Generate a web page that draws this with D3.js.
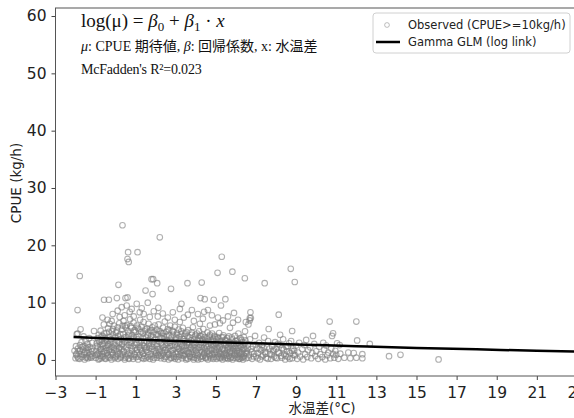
<!DOCTYPE html>
<html>
<head>
<meta charset="utf-8">
<script src="https://cdn.jsdelivr.net/npm/d3@7"></script>
<style>
  body { margin: 0; background: #fff; }
  svg { display: block; }
</style>
</head>
<body>
<div id="chart"></div>
<script>
// observed points [water temp diff, CPUE]
const observedLeft = [
  [-2.05,1.6],[-2.0,0.3],[-1.98,2.4],[-1.95,1.1],[-1.9,0.6],[-1.88,2.0],[-1.85,1.5],[-1.8,0.2],[-1.78,2.6],[-1.75,1.0],
  [-1.7,3.1],[-1.68,0.5],[-1.65,1.8],[-1.6,2.4],[-1.58,0.9],[-1.55,0.1],[-1.52,1.4],[-1.5,3.4],[-1.47,2.1],[-1.45,0.6],
  [-1.42,1.2],[-1.4,2.8],[-1.38,0.3],[-1.35,1.7],[-1.32,3.8],[-1.3,0.8],[-1.28,2.3],[-1.25,1.1],[-1.22,0.4],[-1.2,1.9],
  [-1.18,3.0],[-1.15,0.7],[-1.6,4.1],[-1.9,4.6],[-1.75,5.35],[-1.08,5.05],[-1.94,4.5],[-1.79,14.65],[-1.9,8.7],
  [-1.97,0.9],[-1.87,0.3],[-1.77,1.6],[-1.67,2.3],[-1.57,1.2],[-1.47,0.4],[-1.37,2.2],[-1.27,0.5],[-1.17,1.5]
];
const observedMain = [
  [-1.0,0.4],[-0.98,1.6],[-0.95,2.9],[-0.93,0.9],[-0.9,3.8],[-0.88,2.2],[-0.86,0.1],[-0.84,4.4],[-0.82,1.3],[-0.8,3.2],[-0.78,0.7],[-0.76,2.6],
  [-0.75,5.1],[-0.73,1.9],[-0.71,0.3],[-0.69,3.5],[-0.67,1.0],[-0.65,4.2],[-0.63,2.4],[-0.61,0.6],[-0.59,6.2],[-0.57,2.9],[-0.55,1.5],[-0.53,3.9],[-0.66,7.4],[-0.58,10.5],
  [-0.5,0.2],[-0.48,2.1],[-0.46,4.7],[-0.44,1.2],[-0.42,3.3],[-0.4,0.8],[-0.38,5.5],[-0.36,2.7],[-0.34,1.7],[-0.32,4.0],[-0.3,0.4],[-0.28,3.0],[-0.34,10.5],[-0.4,7.0],[-0.3,6.3],
  [-0.25,1.4],[-0.23,3.6],[-0.21,0.1],[-0.19,5.0],[-0.17,2.3],[-0.15,4.4],[-0.13,0.9],[-0.11,2.9],[-0.09,6.0],[-0.07,1.8],[-0.05,3.9],[-0.03,0.5],[-0.15,8.0],[-0.2,6.8],
  [0.0,2.5],[0.02,4.8],[0.04,0.7],[0.06,3.4],[0.08,1.5],[0.1,5.7],[0.12,0.2],[0.14,4.1],[0.16,2.0],[0.18,6.4],[0.2,3.0],[0.22,1.1],[0.06,10.8],[0.14,13.1],[0.1,8.6],[0.2,7.5],
  [0.25,0.4],[0.27,3.7],[0.29,1.9],[0.31,5.3],[0.33,2.8],[0.35,0.9],[0.37,4.5],[0.39,6.8],[0.41,1.4],[0.43,3.2],[0.45,0.1],[0.47,5.9],[0.34,23.5],[0.49,10.8],[0.3,9.2],[0.45,7.8],
  [0.5,2.2],[0.52,4.0],[0.54,0.6],[0.56,6.1],[0.58,1.7],[0.6,3.5],[0.62,5.0],[0.64,0.3],[0.66,2.6],[0.68,4.6],[0.7,1.2],[0.72,7.1],[0.59,10.9],[0.62,18.8],[0.59,17.6],[0.65,17.1],[0.55,9.5],[0.7,8.4],
  [0.75,0.8],[0.77,3.0],[0.79,5.6],[0.81,1.6],[0.83,4.3],[0.85,2.4],[0.87,0.2],[0.89,6.5],[0.91,3.8],[0.93,1.0],[0.95,5.2],[0.97,2.1],[0.8,8.9],[0.9,7.6],
  [1.0,4.9],[1.02,0.5],[1.04,2.9],[1.06,6.0],[1.08,1.3],[1.1,3.6],[1.12,0.1],[1.14,5.4],[1.16,2.3],[1.18,4.1],[1.2,0.9],[1.22,7.0],[1.09,18.8],[1.05,9.8],[1.2,8.3],
  [1.25,1.8],[1.27,3.3],[1.29,5.8],[1.31,0.4],[1.33,2.6],[1.35,4.6],[1.37,1.1],[1.39,6.6],[1.41,3.0],[1.43,0.7],[1.45,5.0],[1.47,2.0],[1.49,12.1],[1.3,9.0],[1.4,8.0],
  [1.5,0.3],[1.52,3.9],[1.54,2.2],[1.56,5.5],[1.58,1.4],[1.6,4.4],[1.62,0.8],[1.64,6.3],[1.66,2.8],[1.68,3.4],[1.7,0.2],[1.72,5.1],[1.6,10.0],[1.7,7.5],
  [1.75,2.5],[1.77,4.2],[1.79,0.6],[1.81,1.9],[1.83,5.7],[1.85,3.1],[1.87,0.1],[1.89,4.8],[1.91,1.5],[1.93,2.7],[1.95,6.0],[1.97,0.9],[1.79,14.1],[1.87,14.1],[1.84,11.5],[1.9,8.5],
  [2.0,3.7],[2.02,1.2],[2.04,5.3],[2.06,0.4],[2.08,2.4],[2.1,4.5],[2.12,1.8],[2.14,6.2],[2.16,0.7],[2.18,3.2],[2.2,2.0],[2.22,5.0],[2.2,21.4],[2.07,13.4],[2.13,9.1],[2.1,7.6],
  [2.25,0.3],[2.27,2.9],[2.29,4.7],[2.31,1.5],[2.33,3.8],[2.35,0.9],[2.37,5.6],[2.39,2.2],[2.41,4.1],[2.43,0.2],[2.45,1.7],[2.47,3.3],[2.35,8.1],[2.45,6.7],
  [2.5,2.6],[2.52,4.9],[2.54,0.6],[2.56,3.5],[2.58,1.3],[2.6,5.4],[2.62,2.1],[2.64,0.1],[2.66,4.3],[2.68,1.0],[2.7,3.0],[2.72,6.0],[2.76,12.4],[2.6,7.4],
  [2.75,1.6],[2.77,3.9],[2.79,0.4],[2.81,2.5],[2.83,5.1],[2.85,1.1],[2.87,4.4],[2.89,0.8],[2.91,3.2],[2.93,2.0],[2.95,5.8],[2.97,0.2],[2.85,8.3],[2.95,7.0],
  [3.0,3.6],[3.02,0.5],[3.04,2.3],[3.06,4.7],[3.08,1.4],[3.1,3.0],[3.12,0.1],[3.14,5.3],[3.16,1.9],[3.18,4.0],[3.2,0.9],[3.22,2.7],[3.2,8.9],[3.2,6.6],
  [3.25,4.5],[3.27,1.2],[3.29,2.9],[3.31,0.3],[3.33,3.7],[3.35,5.6],[3.37,1.7],[3.39,0.7],[3.41,2.4],[3.43,4.2],[3.45,1.0],[3.47,3.3],[3.28,9.8],[3.4,7.4],
  [3.5,0.4],[3.52,2.1],[3.54,4.8],[3.56,1.5],[3.58,3.1],[3.6,0.2],[3.62,5.2],[3.64,2.6],[3.66,1.1],[3.68,3.9],[3.7,0.7],[3.72,2.0],[3.58,13.4],[3.6,7.9],
  [3.75,3.4],[3.77,1.3],[3.79,4.4],[3.81,0.5],[3.83,2.5],[3.85,5.7],[3.87,1.8],[3.89,0.1],[3.91,3.6],[3.93,2.2],[3.95,4.1],[3.97,0.9],[3.8,8.7],[3.9,6.8],
  [4.0,1.6],[4.02,3.0],[4.04,0.3],[4.06,4.6],[4.08,2.0],[4.1,0.8],[4.12,3.8],[4.14,1.2],[4.16,5.0],[4.18,2.7],[4.2,0.5],[4.22,3.4],[4.1,8.0],[4.2,6.3],
  [4.25,4.2],[4.27,0.2],[4.29,2.3],[4.31,1.4],[4.33,3.6],[4.35,0.7],[4.37,5.4],[4.39,2.9],[4.41,1.0],[4.43,4.0],[4.45,1.8],[4.47,0.4],[4.29,13.5],[4.23,10.8],[4.44,10.6],[4.41,8.4],[4.35,7.2],
  [4.5,2.5],[4.52,0.6],[4.54,3.9],[4.56,1.5],[4.58,4.8],[4.6,0.1],[4.62,2.8],[4.64,1.1],[4.66,3.3],[4.68,0.8],[4.7,4.4],[4.72,2.0],[4.6,8.7],[4.7,6.0],
  [4.75,0.3],[4.77,3.1],[4.79,1.7],[4.81,4.6],[4.83,0.9],[4.85,2.4],[4.87,3.7],[4.89,0.5],[4.91,1.9],[4.93,4.2],[4.95,1.2],[4.97,2.9],[4.89,10.5],[4.8,7.8],[4.95,6.2],
  [5.0,1.4],[5.02,3.6],[5.04,0.2],[5.06,2.2],[5.08,4.0],[5.1,0.8],[5.12,2.9],[5.14,1.6],[5.16,4.7],[5.18,0.4],[5.2,3.3],[5.22,1.1],[5.08,15.2],[5.1,7.4],[5.2,6.4],
  [5.25,2.6],[5.27,0.6],[5.29,3.9],[5.31,1.3],[5.33,0.1],[5.35,2.0],[5.37,4.3],[5.39,0.9],[5.41,3.0],[5.43,1.7],[5.45,0.3],[5.47,3.5],[5.29,18.0],[5.47,10.6],[5.25,9.5],[5.35,6.9],
  [5.5,1.0],[5.52,2.7],[5.54,0.4],[5.56,3.8],[5.58,1.8],[5.6,0.2],[5.62,2.3],[5.64,4.1],[5.66,0.7],[5.68,3.1],[5.7,1.4],[5.72,2.0],[5.6,7.6],[5.7,5.6],
  [5.75,0.5],[5.77,2.5],[5.79,1.2],[5.81,3.6],[5.83,0.1],[5.85,6.5],[5.87,1.9],[5.89,3.0],[5.91,0.8],[5.93,2.2],[5.95,4.2],[5.97,1.5],[5.82,15.4],[5.9,8.2],
  [6.0,2.8],[6.02,0.3],[6.04,1.6],[6.06,3.4],[6.08,0.9],[6.1,2.1],[6.12,4.6],[6.14,0.2],[6.16,1.2],[6.18,2.7],[6.2,0.6],[6.22,3.8],[6.1,7.0],
  [6.25,1.0],[6.27,2.3],[6.29,0.4],[6.31,3.1],[6.33,1.7],[6.35,0.1],[6.37,2.6],[6.39,4.0],[6.41,0.7],[6.43,1.9],[6.45,5.0],[6.47,3.4],[6.44,14.25],[6.49,6.6]
];
// second pass over the densest band, between the points above
const observedDense = [
  [-0.97,0.9],[-0.93,2.4],[-0.89,1.1],[-0.85,3.4],[-0.81,0.2],[-0.77,1.9],[-0.73,4.0],[-0.69,0.6],[-0.65,2.8],[-0.61,1.4],[-0.57,4.6],[-0.53,0.3],
  [-0.49,3.6],[-0.45,1.7],[-0.41,2.5],[-0.37,0.5],[-0.33,4.9],[-0.29,1.9],[-0.25,3.2],[-0.21,0.8],[-0.17,1.3],[-0.13,5.4],[-0.09,2.1],[-0.05,0.3],
  [-0.01,3.9],[0.03,1.9],[0.07,5.1],[0.11,0.9],[0.15,3.0],[0.19,2.2],[0.23,4.5],[0.27,0.6],[0.31,2.6],[0.35,6.0],[0.39,1.6],[0.43,3.9],
  [0.47,0.4],[0.51,5.6],[0.55,2.9],[0.59,1.0],[0.63,4.3],[0.67,0.2],[0.71,3.1],[0.75,5.9],[0.79,2.0],[0.83,0.6],[0.87,3.6],[0.91,4.9],
  [0.95,0.9],[0.99,2.6],[1.03,4.0],[1.07,1.8],[1.11,5.6],[1.15,0.6],[1.19,3.0],[1.23,2.1],[1.27,4.9],[1.31,1.5],[1.35,3.8],[1.39,0.2],
  [1.43,2.4],[1.47,5.3],[1.51,1.7],[1.55,3.3],[1.59,0.5],[1.63,4.8],[1.67,2.1],[1.71,3.7],[1.75,1.0],[1.79,5.2],[1.83,2.3],[1.87,4.0],
  [1.91,0.4],[1.95,3.5],[1.99,1.6],[2.03,4.4],[2.07,2.8],[2.11,0.9],[2.15,5.0],[2.19,1.4],[2.23,3.9],[2.27,0.7],[2.31,2.6],[2.35,4.6],
  [2.39,1.2],[2.43,3.6],[2.47,0.5],[2.51,1.8],[2.55,4.2],[2.59,2.9],[2.63,0.9],[2.67,5.2],[2.71,2.4],[2.75,0.3],[2.79,3.3],[2.83,1.7],
  [2.87,4.9],[2.91,0.5],[2.95,2.6],[2.99,3.9],[3.03,1.1],[3.07,4.4],[3.11,2.0],[3.15,0.6],[3.19,3.3],[3.23,1.5],[3.27,5.0],[3.31,2.3],
  [3.35,0.9],[3.39,3.6],[3.43,1.6],[3.47,4.6],[3.51,0.1],[3.55,2.7],[3.59,4.1],[3.63,1.3],[3.67,3.1],[3.71,0.5],[3.75,2.2],[3.79,4.8],
  [3.83,1.0],[3.87,3.0],[3.91,0.4],[3.95,2.6],[3.99,4.4],[4.03,1.3],[4.07,3.4],[4.11,0.1],[4.15,2.2],[4.19,4.2],[4.23,1.7],[4.27,3.0],
  [4.31,0.6],[4.35,4.4],[4.39,2.1],[4.43,1.2],[4.47,3.3],[4.51,0.3],[4.55,2.2],[4.59,3.6],[4.63,1.5],[4.67,4.1],[4.71,0.6],[4.75,2.7],
  [4.79,1.1],[4.83,3.4],[4.87,0.2],[4.91,2.5],[4.95,4.0],[4.99,1.8],[5.03,2.9],[5.07,0.5],[5.11,3.8],[5.15,1.1],[5.19,2.3],[5.23,0.3],
  [5.27,3.3],[5.31,1.9],[5.35,4.0],[5.39,0.6],[5.43,2.5],[5.47,1.2],[5.51,3.3],[5.55,0.7],[5.59,2.1],[5.63,3.0],[5.67,1.5],[5.71,0.3],
  [5.75,2.8],[5.79,3.9],[5.83,1.6],[5.87,0.4],[5.91,2.5],[5.95,1.1],[5.99,3.3],[6.03,2.1],[6.07,0.5],[6.11,3.0],[6.15,1.5],[6.19,0.2],
  [6.23,2.3],[6.27,3.5],[6.31,1.2],[6.35,0.5],[6.39,2.0],[6.43,2.9],[6.47,1.3]
];
const observedRight = [
  [6.5,0.3],[6.55,1.5],[6.6,2.7],[6.65,0.8],[6.7,3.6],[6.72,8.3],[6.69,7.3],[6.74,7.3],[6.68,6.9],[6.75,1.9],[6.8,0.2],[6.85,2.4],[6.9,1.1],[6.95,4.2],[6.62,6.2],
  [7.0,0.6],[7.05,2.0],[7.1,1.2],[7.15,3.0],[7.2,0.1],[7.25,1.7],[7.3,2.6],[7.35,0.8],[7.4,3.9],[7.43,13.4],[7.45,1.4],[7.5,0.4],[7.55,2.2],[7.63,5.4],[7.6,3.3],
  [7.7,1.0],[7.75,0.2],[7.8,2.4],[7.85,1.5],[7.9,0.6],[7.95,3.1],[8.0,1.9],[8.05,0.3],[8.1,2.8],[8.13,7.9],[8.15,1.2],[8.2,4.4],[8.25,0.7],[8.3,2.1],
  [8.35,3.6],[8.4,1.0],[8.45,0.1],[8.5,2.3],[8.55,1.5],[8.6,0.5],[8.65,2.9],[8.73,15.9],[8.7,1.2],[8.75,3.3],[8.8,5.05],[8.8,0.3],[8.85,2.0],[8.93,13.6],[8.9,1.6],[8.95,0.8],
  [9.0,2.5],[9.05,0.2],[9.1,1.3],[9.15,3.0],[9.2,0.6],[9.3,1.9],[9.35,0.1],[9.4,2.6],[9.45,1.0],[9.5,3.5],[9.55,0.5],[9.6,1.7],[9.7,2.2],[9.75,0.3],[9.84,4.2],[9.8,1.2],[9.9,2.8],[9.95,0.7],
  [10.0,1.5],[10.1,0.2],[10.15,2.3],[10.2,1.0],[10.3,0.5],[10.35,3.0],[10.4,1.8],[10.45,0.1],[10.5,2.5],[10.55,0.8],[10.6,1.3],[10.67,6.7],[10.7,0.3],[10.75,2.0],
  [10.79,4.2],[10.84,4.65],[10.85,1.0],[10.9,0.4],[10.95,1.6],[11.04,2.9],[11.0,0.9],[11.1,0.2],[11.17,2.6],[11.2,1.1],
  [11.4,0.4],[11.6,1.3],[11.87,1.2],[12.0,6.7],[12.04,3.4],[12.3,1.0],[12.67,2.8],[11.7,0.3],[12.0,0.4],[12.3,0.3],[13.63,0.65],[14.2,0.9],[16.1,0.1],
  [6.52,1.1],[6.58,2.0],[6.63,0.4],[6.78,1.4],[6.88,0.6],[6.98,2.7],[7.08,0.3],[7.18,1.9],[7.28,0.6],[7.38,2.1],[7.48,1.1],[7.58,0.2],[7.68,2.0],
  [7.78,0.9],[7.88,1.8],[7.98,0.4],[8.08,1.4],[8.18,2.6],[8.28,0.4],[8.38,1.8],[8.48,0.7],[8.58,2.4],[8.68,0.2],[8.78,1.6],[8.88,0.9]
];

// fitted Gamma GLM curve
const fitX = [-2.1, 0, 3, 6, 9, 12, 15, 18, 21, 24];
const fitY = [4.0, 3.7, 3.3, 3.0, 2.7, 2.4, 2.1, 1.85, 1.6, 1.4];

const xTicks = [-3, -1, 1, 3, 5, 7, 9, 11, 13, 15, 17, 19, 21, 23];
const yTicks = [0, 10, 20, 30, 40, 50, 60];

const W = 574, H = 418;
const plot = { left: 55.5, right: 597, top: 8, bottom: 376 };

const svg = d3.select('#chart').append('svg')
  .attr('width', W)
  .attr('height', H);

const x = d3.scaleLinear().domain([-3, 24]).range([plot.left, plot.right]);
const y = d3.scaleLinear().domain([-2.8, 61.4]).range([plot.bottom, plot.top]);

const fmt = d => (d < 0 ? '\u2212' + Math.abs(d) : '' + d);

// axes
const xAxis = svg.append('g')
  .attr('transform', 'translate(0,' + plot.bottom + ')')
  .call(d3.axisBottom(x).tickValues(xTicks).tickFormat(fmt).tickSize(4).tickSizeOuter(0));
const yAxis = svg.append('g')
  .attr('transform', 'translate(' + plot.left + ',0)')
  .call(d3.axisLeft(y).tickValues(yTicks).tickSize(4).tickSizeOuter(0));

[xAxis, yAxis].forEach(a => {
  a.select('.domain').remove();
  a.selectAll('line').attr('stroke', '#444');
  a.selectAll('text')
    .attr('fill', '#222')
    .style('font-family', 'DejaVu Sans, sans-serif')
    .style('font-size', '15.5px');
});
xAxis.selectAll('text').attr('dy', '0.95em');
yAxis.selectAll('text').attr('dx', '-2px');

// frame
svg.append('rect')
  .attr('x', plot.left).attr('y', plot.top)
  .attr('width', plot.right - plot.left).attr('height', plot.bottom - plot.top)
  .attr('fill', 'none').attr('stroke', '#555').attr('stroke-width', 1);

// points
const allObs = observedLeft.concat(observedMain, observedDense, observedRight);
svg.append('g').selectAll('circle')
  .data(allObs)
  .enter().append('circle')
    .attr('cx', d => x(d[0]))
    .attr('cy', d => y(d[1]))
    .attr('r', 2.8)
    .attr('fill', 'none')
    .attr('stroke', '#808080')
    .attr('stroke-opacity', 0.62)
    .attr('stroke-width', 1.1);

// fit line
const line = d3.line()
  .x((d, i) => x(fitX[i]))
  .y(d => y(d))
  .curve(d3.curveMonotoneX);
svg.append('path')
  .datum(fitY)
  .attr('d', line)
  .attr('fill', 'none')
  .attr('stroke', '#000')
  .attr('stroke-width', 2.5);

// axis labels
svg.append('text')
  .attr('x', 322).attr('y', 413)
  .attr('text-anchor', 'middle')
  .attr('fill', '#222')
  .style('font-family', 'DejaVu Sans, Noto Sans CJK JP, sans-serif')
  .style('font-size', '13.5px')
  .text('水温差(°C)');
svg.append('text')
  .attr('transform', 'translate(21,183) rotate(-90)')
  .attr('text-anchor', 'middle')
  .attr('fill', '#222')
  .style('font-family', 'DejaVu Sans, sans-serif')
  .style('font-size', '13.5px')
  .text('CPUE (kg/h)');

// annotation
const serif = 'Liberation Serif, Noto Sans CJK JP, serif';
const eq = svg.append('text')
  .attr('x', 81).attr('y', 27)
  .attr('fill', '#111')
  .style('font-family', serif)
  .style('font-size', '19px');
eq.append('tspan').text('log(μ) = ');
eq.append('tspan').style('font-style', 'italic').text('β');
eq.append('tspan').attr('dy', 4).style('font-size', '13px').text('0');
eq.append('tspan').attr('dy', -4).text(' + ');
eq.append('tspan').style('font-style', 'italic').text('β');
eq.append('tspan').attr('dy', 4).style('font-size', '13px').text('1');
eq.append('tspan').attr('dy', -4).text(' · ');
eq.append('tspan').style('font-style', 'italic').text('x');

const note = svg.append('text')
  .attr('x', 81).attr('y', 51)
  .attr('fill', '#111')
  .style('font-family', serif)
  .style('font-size', '14px');
note.append('tspan').style('font-style', 'italic').text('μ');
note.append('tspan').text(': CPUE 期待値, ');
note.append('tspan').style('font-style', 'italic').text('β');
note.append('tspan').text(': 回帰係数, x: 水温差');

svg.append('text')
  .attr('x', 81).attr('y', 74)
  .attr('fill', '#111')
  .style('font-family', serif)
  .style('font-size', '14px')
  .style('letter-spacing', '-0.2px')
  .text("McFadden's R²=0.023");

// legend
const lg = svg.append('g');
lg.append('rect')
  .attr('x', 373).attr('y', 13).attr('width', 197).attr('height', 40)
  .attr('rx', 3)
  .attr('fill', '#fff').attr('fill-opacity', 0.8)
  .attr('stroke', '#d0d0d0');
lg.append('circle')
  .attr('cx', 387).attr('cy', 25).attr('r', 2.4)
  .attr('fill', 'none').attr('stroke', '#808080').attr('stroke-opacity', 0.5);
lg.append('line')
  .attr('x1', 376).attr('x2', 400).attr('y1', 42).attr('y2', 42)
  .attr('stroke', '#000').attr('stroke-width', 2.5);
const legendText = ['Observed (CPUE>=10kg/h)', 'Gamma GLM (log link)'];
lg.selectAll('text.lt')
  .data(legendText)
  .enter().append('text')
    .attr('class', 'lt')
    .attr('x', 408)
    .attr('y', (d, i) => 25 + i * 17)
    .attr('dy', '0.35em')
    .attr('fill', '#222')
    .style('font-family', 'DejaVu Sans, sans-serif')
    .style('font-size', '11.5px')
    .text(d => d);
</script>
</body>
</html>
